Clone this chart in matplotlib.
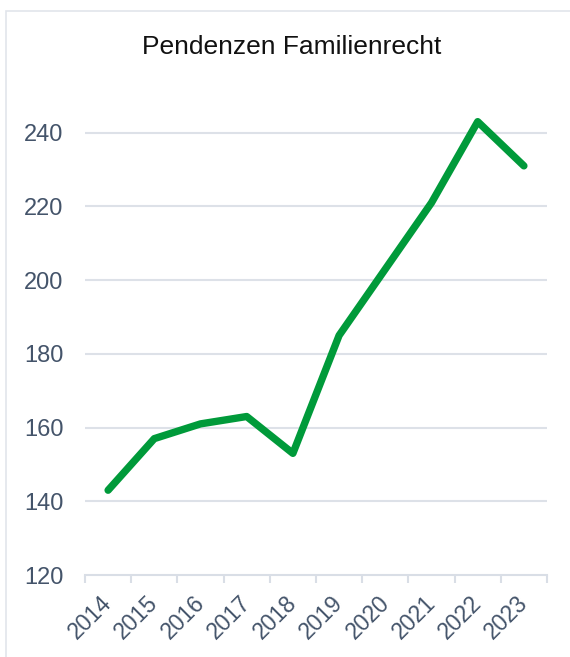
import matplotlib
matplotlib.use("Agg")
import matplotlib.pyplot as plt
import matplotlib.transforms as mtransforms
from matplotlib.patches import Rectangle

years = ["2014", "2015", "2016", "2017", "2018", "2019", "2020", "2021", "2022", "2023"]
pendenzen = [143, 157, 161, 163, 153, 185, 203, 221, 243, 231]
y_ticks = [120, 140, 160, 180, 200, 220, 240]
title = "Pendenzen Familienrecht"

plt.rcParams['font.family'] = ['Liberation Sans', 'DejaVu Sans']

W, H = 570, 657
fig = plt.figure(figsize=(W / 100, H / 100), dpi=100)
fig.patch.set_facecolor("white")

# outer border
fig.patches.append(Rectangle((6 / W, -0.05), 1.2, 1 - 11 / H + 0.05,
                             transform=fig.transFigure, fill=False,
                             edgecolor="#e1e5eb", linewidth=1.2, zorder=0))

ax_left, ax_right = 85, 547
ax_bottom = 575
ppu = (575 - 132.7) / 120.0
ymax = 252
ax = fig.add_axes([ax_left / W, (H - ax_bottom) / H,
                   (ax_right - ax_left) / W, (ymax - 120) * ppu / H])

x = list(range(len(years)))
ax.plot(x, pendenzen, color="#009A3A", linewidth=5.3,
        solid_capstyle="round", solid_joinstyle="round", zorder=3, clip_on=False)

ax.set_xlim(-0.5, len(years) - 0.5)
ax.set_ylim(120, ymax)

for s in ["top", "right", "left"]:
    ax.spines[s].set_visible(False)
ax.spines["bottom"].set_color("#d9dee6")
ax.spines["bottom"].set_linewidth(1.5)
ax.spines["bottom"].set_zorder(2)

ax.set_yticks(y_ticks)
ax.set_yticklabels([str(v) for v in y_ticks])
ax.tick_params(axis="y", length=0, pad=15.5, labelsize=17, labelcolor="#44546A")
for v in y_ticks[1:]:
    ax.axhline(v, color="#dde1e8", linewidth=1.5, zorder=1)

ax.set_xticks(x)
ax.set_xticklabels(years)
ax.set_xticks([i - 0.5 for i in range(len(years) + 1)], minor=True)
ax.tick_params(axis="x", which="major", length=0, pad=0, labelsize=16.5, labelcolor="#44546A")
ax.tick_params(axis="x", which="minor", length=5.5, width=1.5, color="#d9dee6")

offset = mtransforms.ScaledTranslation(5 / 100, -29 / 100, fig.dpi_scale_trans)
for lab in ax.get_xticklabels():
    lab.set_rotation(45)
    lab.set_ha("right")
    lab.set_va("baseline")
    lab.set_rotation_mode("anchor")
    lab.set_transform(lab.get_transform() + offset)

fig.text(292 / W, 1 - 47 / H, title, ha="center", va="center",
         fontsize=19, color="#111111")

fig.savefig("out.png", dpi=100, facecolor="white")
